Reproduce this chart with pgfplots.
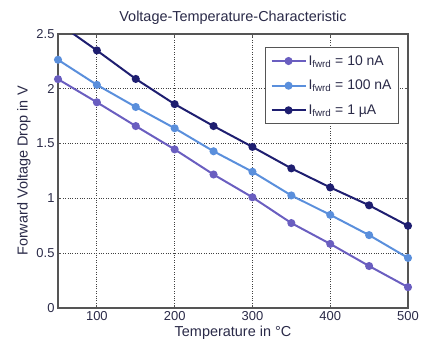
\documentclass[border=0pt]{standalone}
\usepackage{pgfplots}
\pgfplotsset{compat=1.18}
\usepackage{fontspec}
\setmainfont{Liberation Sans}
\definecolor{cA}{HTML}{6A5EC0}
\definecolor{cB}{HTML}{5A8FDC}
\definecolor{cC}{HTML}{1E1E70}
\definecolor{ax}{HTML}{555555}
\definecolor{txt}{HTML}{2A2A48}
\begin{document}
\begin{tikzpicture}
\begin{axis}[
  scale only axis,
  width=350bp, height=274bp,
  xmin=50, xmax=500, ymin=0, ymax=2.5,
  xtick={100,200,300,400,500},
  ytick={0,0.5,1,1.5,2,2.5},
  yticklabels={0,0.5,1,1.5,2,2.5},
  /pgf/number format/assume math mode=true,
  tick label style={font=\fontsize{13}{15}\selectfont, text=txt},
  label style={font=\fontsize{14.5}{16}\selectfont, text=txt},
  title style={font=\fontsize{14.5}{16}\selectfont, text=txt},
  title={Voltage-Temperature-Characteristic},
  xlabel={Temperature in °C},
  ylabel={Forward Voltage Drop in V},
  xlabel style={yshift=2pt},
  ylabel style={yshift=-1pt},
  axis line style={ax, line width=1.3pt},
  tick style={ax, line width=0.8pt},
  tick align=inside,
  major tick length=3pt,
  grid=major,
  major grid style={black!75, dotted, line width=0.8pt},
  legend style={at={(0.974,0.9526)}, anchor=north east, draw=ax, line width=0.9pt,
    font=\fontsize{14}{16}\selectfont, text=txt, row sep=9.5pt, inner xsep=5pt, inner ysep=6pt},
  legend cell align=left,
  legend image code/.code={\draw[mark repeat=2,mark phase=2] plot coordinates {(0cm,0cm) (0.6cm,0cm) (1.2cm,0cm)};},
  clip=true,
]
\addplot[cA, line width=2pt, mark=*, mark size=3pt] coordinates {
(50,2.088) (100,1.877) (150,1.66) (200,1.447) (250,1.218) (300,1.01) (350,0.775) (400,0.585) (450,0.383) (500,0.19)};
\addlegendentry{I\textsubscript{fwrd} = 10 nA}
\addplot[cB, line width=2pt, mark=*, mark size=3pt] coordinates {
(50,2.265) (100,2.036) (150,1.834) (200,1.64) (250,1.43) (300,1.243) (350,1.027) (400,0.85) (450,0.665) (500,0.457)};
\addlegendentry{I\textsubscript{fwrd} = 100 nA}
\addplot[cC, line width=2pt, mark=*, mark size=3pt] coordinates {
(50,2.6) (100,2.35) (150,2.09) (200,1.86) (250,1.66) (300,1.47) (350,1.274) (400,1.10) (450,0.937) (500,0.75)};
\addlegendentry{I\textsubscript{fwrd} = 1 µA}
\end{axis}
\pgfresetboundingbox
\path[use as bounding box] ([shift={(-58bp,-41bp)}]current axis.south west) rectangle ([shift={(15bp,34bp)}]current axis.north east);
\end{tikzpicture}
\end{document}
